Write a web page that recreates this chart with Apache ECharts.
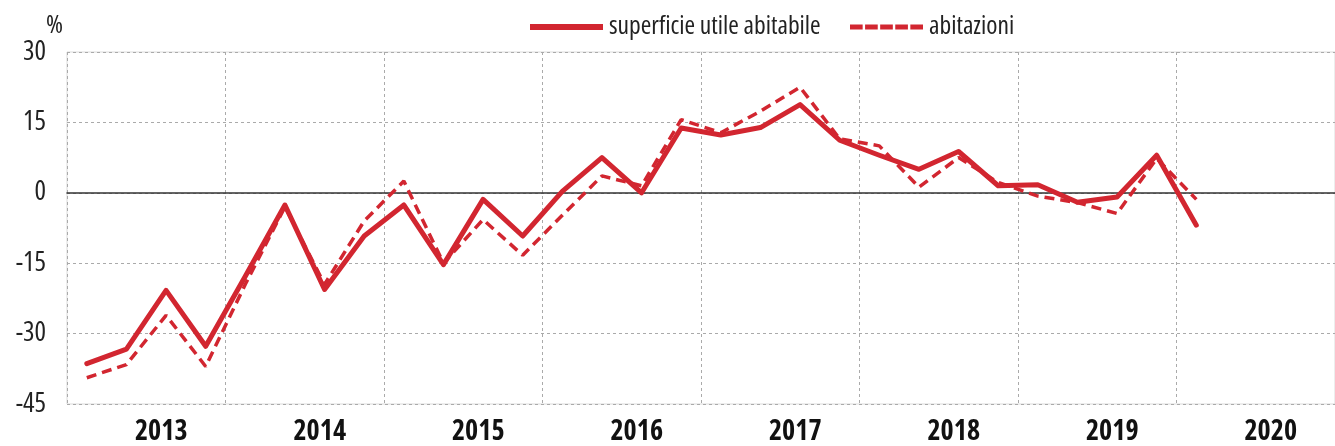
<!DOCTYPE html>
<html>
<head>
<meta charset="utf-8">
<script src="https://cdn.jsdelivr.net/npm/echarts@6/dist/echarts.min.js"></script>
<style>
html,body{margin:0;padding:0;background:#fff;}
#chart{width:1335px;height:446px;}
</style>
</head>
<body>
<div id="chart"></div>
<script>
// ---- data ----
const years = ['2013','2014','2015','2016','2017','2018','2019','2020'];
const quarters = ['T1','T2','T3','T4'];
const yTicks = {min: -45, max: 30, interval: 15};
// superficie utile abitabile (quarterly % change, 2013 T1 - 2020 T1)
const superficie = [
  -36.4, -33.3, -20.8, -32.7,
  -17.8,  -2.6, -20.6,  -9.2,
   -2.6, -15.3,  -1.4,  -9.2,
    0.3,   7.5,   0.0,  13.8,
   12.3,  13.9,  18.8,  11.2,
    8.0,   5.0,   8.8,   1.5,
    1.7,  -2.0,  -0.9,   8.0,
   -6.9
];
// abitazioni
const abitazioni = [
  -39.4, -36.6, -26.1, -37.0,
  -19.5,  -3.0, -19.5,  -6.0,
    2.5, -15.0,  -5.7, -13.3,
   -4.8,   3.6,   1.5,  15.6,
   12.8,  17.4,  22.5,  11.5,
   10.0,   1.2,   7.5,   2.2,
   -0.7,  -2.1,  -4.4,   7.3,
   -1.4
];
const seriesNames = ['superficie utile abitabile', 'abitazioni'];

// ---- chart ----
const quarterCats = [];
years.forEach(y => quarters.forEach(q => quarterCats.push(y + ' ' + q)));

const RED = '#d22630';
const FONT = '"Open Sans", sans-serif';
const STRETCH = 'condensed';
const DASH_ICON = 'path://M0,0h13v5h-13z M15.5,0h13v5h-13z M31,0h13v5h-13z M46.5,0h13v5h-13z M62,0h13v5h-13z';

const chart = echarts.init(document.getElementById('chart'));
chart.setOption({
  animation: false,
  backgroundColor: '#fff',
  grid: {
    left: 67, right: -12, top: 52, bottom: 42,
    show: true, borderColor: '#dadada', borderWidth: 1, backgroundColor: '#fff'
  },
  legend: [
    {
      data: [{name: seriesNames[0], icon: 'rect'}],
      left: 525, top: 9,
      itemWidth: 73, itemHeight: 6,
      itemStyle: {color: RED, borderWidth: 0},
      textStyle: {fontFamily: FONT, fontStyle: STRETCH, fontSize: 25.5, color: '#222', padding: [0, 0, 0, 1]}
    },
    {
      data: [{name: seriesNames[1], icon: DASH_ICON}],
      left: 845, top: 9,
      itemWidth: 73, itemHeight: 5,
      itemStyle: {color: RED, borderWidth: 0},
      textStyle: {fontFamily: FONT, fontStyle: STRETCH, fontSize: 25.5, color: '#222', padding: [0, 0, 0, 1]}
    }
  ],
  xAxis: [
    {
      type: 'category',
      data: quarterCats,
      boundaryGap: true,
      axisLine: {show: true, onZero: true, lineStyle: {color: '#333', width: 1.5}},
      axisTick: {show: false},
      axisLabel: {show: false},
      splitLine: {
        show: true, interval: 3,
        lineStyle: {color: '#aaaaaa', type: [3, 3], width: 1}
      }
    },
    {
      type: 'category',
      data: years,
      position: 'bottom',
      boundaryGap: true,
      axisLine: {show: false, onZero: false},
      axisTick: {show: false},
      splitLine: {show: false},
      axisLabel: {
        show: true, margin: 14,
        padding: [0, 0, 0, 30],
        fontFamily: FONT, fontStyle: STRETCH, fontWeight: 'bold', fontSize: 28, color: '#111'
      }
    }
  ],
  yAxis: {
    type: 'value',
    min: yTicks.min, max: yTicks.max, interval: yTicks.interval,
    name: '%',
    nameLocation: 'end',
    nameGap: 5,
    nameTextStyle: {fontFamily: FONT, fontStyle: STRETCH, fontSize: 26, color: '#222', align: 'right', padding: [0, 4, 0, 0]},
    axisLine: {show: false},
    axisTick: {show: false},
    axisLabel: {fontFamily: FONT, fontStyle: STRETCH, fontSize: 27, color: '#222', margin: 21},
    splitLine: {show: true, lineStyle: {color: '#aaaaaa', type: [3, 3], width: 1}}
  },
  series: [
    {
      name: seriesNames[0],
      type: 'line',
      xAxisIndex: 0,
      data: superficie,
      symbol: 'none',
      z: 3,
      lineStyle: {color: RED, width: 5, join: 'round', cap: 'round'},
      itemStyle: {color: RED}
    },
    {
      name: seriesNames[1],
      type: 'line',
      xAxisIndex: 0,
      data: abitazioni,
      symbol: 'none',
      z: 2,
      lineStyle: {color: RED, width: 3.5, type: [10, 6]},
      itemStyle: {color: RED}
    }
  ]
});
</script>
</body>
</html>
